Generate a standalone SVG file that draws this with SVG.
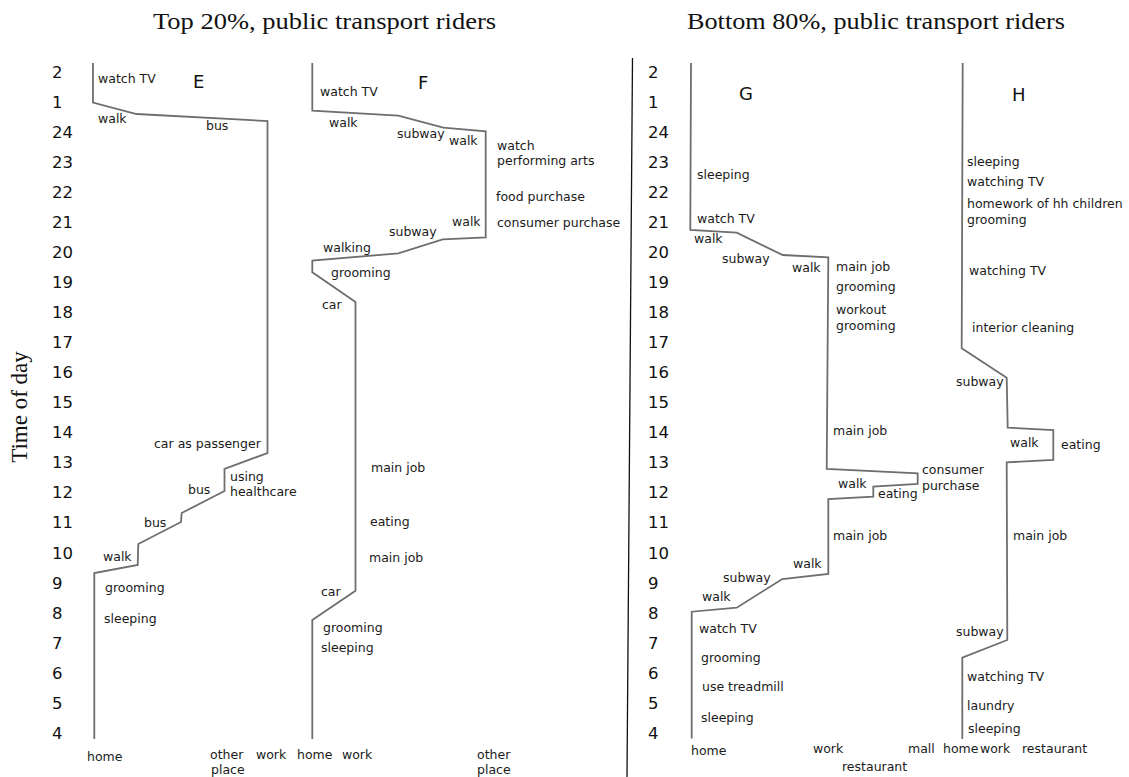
<svg xmlns="http://www.w3.org/2000/svg" width="1129" height="777" viewBox="0 0 1129 777">
<style>
.t{font-family:"DejaVu Sans",Verdana,sans-serif;font-size:12.5px;fill:#1a1a1a}
.n{font-family:"DejaVu Sans",Verdana,sans-serif;font-size:16.5px;fill:#111}
.L{font-family:"DejaVu Sans",Verdana,sans-serif;font-size:18px;fill:#111}
.s{font-family:"Liberation Serif","Times New Roman",serif;font-size:24px;fill:#111}
.p{fill:none;stroke:#6e6e6e;stroke-width:1.8;stroke-linejoin:miter}
</style>
<rect width="1129" height="777" fill="#fff"/>
<g id="titles">
<text class="s" x="153" y="29" textLength="343" lengthAdjust="spacingAndGlyphs">Top 20%, public transport riders</text>
<text class="s" x="687" y="29" textLength="378" lengthAdjust="spacingAndGlyphs">Bottom 80%, public transport riders</text>
<text class="s" style="font-size:23px" transform="translate(27,407) rotate(-90)" text-anchor="middle">Time of day</text>
</g>
<line id="divider" x1="632.5" y1="58" x2="627" y2="777" stroke="#111" stroke-width="1.3"/>
<g id="axis-left" class="n">
<text x="52" y="78">2</text><text x="52" y="108">1</text><text x="52" y="138">24</text><text x="52" y="168">23</text><text x="52" y="198">22</text><text x="52" y="228">21</text><text x="52" y="258">20</text><text x="52" y="288">19</text><text x="52" y="318">18</text><text x="52" y="348">17</text><text x="52" y="378">16</text><text x="52" y="408">15</text><text x="52" y="438">14</text><text x="52" y="468">13</text><text x="52" y="498">12</text><text x="52" y="528">11</text><text x="52" y="559">10</text><text x="52" y="589">9</text><text x="52" y="619">8</text><text x="52" y="649">7</text><text x="52" y="679">6</text><text x="52" y="709">5</text><text x="52" y="739">4</text>
</g>
<g id="axis-right" class="n">
<text x="648" y="78">2</text><text x="648" y="108">1</text><text x="648" y="138">24</text><text x="648" y="168">23</text><text x="648" y="198">22</text><text x="648" y="228">21</text><text x="648" y="258">20</text><text x="648" y="288">19</text><text x="648" y="318">18</text><text x="648" y="348">17</text><text x="648" y="378">16</text><text x="648" y="408">15</text><text x="648" y="438">14</text><text x="648" y="468">13</text><text x="648" y="498">12</text><text x="648" y="528">11</text><text x="648" y="559">10</text><text x="648" y="589">9</text><text x="648" y="619">8</text><text x="648" y="649">7</text><text x="648" y="679">6</text><text x="648" y="709">5</text><text x="648" y="739">4</text>
</g>
<g id="connectors">
<path id="path-E" class="p" d="M93,63 V102.5 L136.5,114 L267.5,121 V453 L224.5,469 V491 L181.7,513 L181,522 L138.3,544 L137.7,565 L94.3,573 V739"/>
<path id="path-F" class="p" d="M312.3,63 V110.7 L398.3,115.7 L443.3,127.7 L485.7,131.3 V237.3 L442.7,239.3 L398.3,253.3 L312.3,260.7 V272.3 L355.5,302 V590.7 L312.3,620 V739"/>
<path id="path-G" class="p" d="M691,63 L690.3,230 L736.7,232.7 L782.7,255 L828.3,257.3 L826.7,469 L917.7,473.3 V484 L873.3,486.7 V496.7 L828.3,499 V574 L782.3,579 L736.7,607.7 L691.7,611.7 V738.5"/>
<path id="path-H" class="p" d="M962.7,63 L961.7,348.3 L1006.7,377.7 L1007.7,427.7 L1053.3,430 V460 L1006.7,462.3 L1007.3,640 L962.3,657.7 V739"/>
</g>
<g id="node-E" class="t">
<text class="L" x="193" y="88">E</text>
<text x="98" y="83">watch TV</text>
<text x="98" y="123">walk</text>
<text x="206" y="130">bus</text>
<text x="154" y="448">car as passenger</text>
<text x="230" y="481">using</text>
<text x="230" y="496">healthcare</text>
<text x="188" y="494">bus</text>
<text x="144" y="527">bus</text>
<text x="103" y="561">walk</text>
<text x="105" y="592">grooming</text>
<text x="104" y="623">sleeping</text>
<text x="87" y="761">home</text>
<text x="210" y="759">other</text>
<text x="211" y="774">place</text>
<text x="256" y="759">work</text>
</g>
<g id="node-F" class="t">
<text class="L" x="418" y="89">F</text>
<text x="320" y="96">watch TV</text>
<text x="329" y="127">walk</text>
<text x="397" y="138">subway</text>
<text x="449" y="145">walk</text>
<text x="497" y="150">watch</text>
<text x="497" y="165">performing arts</text>
<text x="496" y="201">food purchase</text>
<text x="452" y="226">walk</text>
<text x="497" y="227">consumer purchase</text>
<text x="389" y="236">subway</text>
<text x="323" y="252">walking</text>
<text x="331" y="277">grooming</text>
<text x="322" y="309">car</text>
<text x="371" y="472">main job</text>
<text x="370" y="526">eating</text>
<text x="369" y="562">main job</text>
<text x="321" y="596">car</text>
<text x="323" y="632">grooming</text>
<text x="321" y="652">sleeping</text>
<text x="297" y="759">home</text>
<text x="342" y="759">work</text>
<text x="477" y="759">other</text>
<text x="477" y="774">place</text>
</g>
<g id="node-G" class="t">
<text class="L" x="739" y="100">G</text>
<text x="697" y="179">sleeping</text>
<text x="697" y="223">watch TV</text>
<text x="694" y="243">walk</text>
<text x="722" y="263">subway</text>
<text x="792" y="272">walk</text>
<text x="836" y="271">main job</text>
<text x="836" y="291">grooming</text>
<text x="836" y="314">workout</text>
<text x="836" y="330">grooming</text>
<text x="833" y="435">main job</text>
<text x="838" y="488">walk</text>
<text x="878" y="498">eating</text>
<text x="922" y="474">consumer</text>
<text x="922" y="490">purchase</text>
<text x="833" y="540">main job</text>
<text x="793" y="568">walk</text>
<text x="723" y="582">subway</text>
<text x="702" y="601">walk</text>
<text x="699" y="633">watch TV</text>
<text x="701" y="662">grooming</text>
<text x="702" y="691">use treadmill</text>
<text x="701" y="722">sleeping</text>
<text x="691" y="755">home</text>
<text x="813" y="753">work</text>
<text x="842" y="771">restaurant</text>
<text x="908" y="753">mall</text>
</g>
<g id="node-H" class="t">
<text class="L" x="1012" y="101">H</text>
<text x="967" y="166">sleeping</text>
<text x="967" y="186">watching TV</text>
<text x="967" y="208">homework of hh children</text>
<text x="967" y="224">grooming</text>
<text x="969" y="275">watching TV</text>
<text x="972" y="332">interior cleaning</text>
<text x="956" y="386">subway</text>
<text x="1010" y="447">walk</text>
<text x="1061" y="449">eating</text>
<text x="1013" y="540">main job</text>
<text x="956" y="636">subway</text>
<text x="967" y="681">watching TV</text>
<text x="967" y="710">laundry</text>
<text x="968" y="733">sleeping</text>
<text x="943" y="753">home</text>
<text x="980" y="753">work</text>
<text x="1022" y="753">restaurant</text>
</g>
</svg>
